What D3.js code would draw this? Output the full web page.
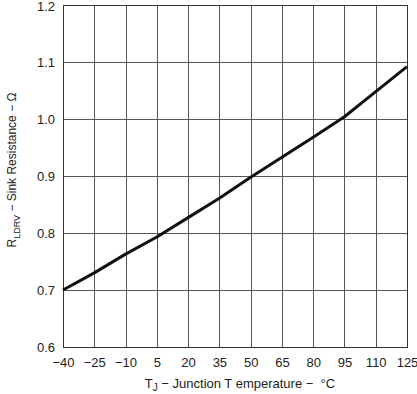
<!DOCTYPE html>
<html>
<head>
<meta charset="utf-8">
<script src="https://cdn.jsdelivr.net/npm/d3@7"></script>
<style>
  body { margin: 0; background: #fff; }
  text { font-family: "Liberation Sans", Arial, sans-serif; fill: #222; }
</style>
</head>
<body>
<svg id="chart" width="417" height="394"></svg>
<script>
// chart values
var temps = [-40, -25, -10, 5, 20, 35, 50, 65, 80, 95, 110, 125];
var resistance = [0.700, 0.730, 0.763, 0.793, 0.827, 0.861, 0.898, 0.933, 0.968, 1.004, 1.048, 1.092];
var xTicks = [-40, -25, -10, 5, 20, 35, 50, 65, 80, 95, 110, 125];
var yTicks = [0.6, 0.7, 0.8, 0.9, 1.0, 1.1, 1.2];

// plot box
var margin = {top: 5, right: 10, bottom: 47, left: 63};
var width = 417 - margin.left - margin.right,
    height = 394 - margin.top - margin.bottom;

var svg = d3.select("#chart");
var g = svg.append("g")
    .attr("transform", "translate(" + margin.left + "," + margin.top + ")");

var x = d3.scaleLinear().domain([-40, 125]).range([0, width]);
var y = d3.scaleLinear().domain([0.6, 1.2]).range([height, 0]);

// grid
g.append("g").selectAll("line")
    .data(xTicks)
    .enter().append("line")
    .attr("x1", function(d) { return Math.round(x(d)) + 0.5; })
    .attr("x2", function(d) { return Math.round(x(d)) + 0.5; })
    .attr("y1", 0).attr("y2", height)
    .attr("stroke", "#555").attr("stroke-width", 1);

g.append("g").selectAll("line")
    .data(yTicks)
    .enter().append("line")
    .attr("y1", function(d) { return Math.round(y(d)) + 0.5; })
    .attr("y2", function(d) { return Math.round(y(d)) + 0.5; })
    .attr("x1", 0).attr("x2", width)
    .attr("stroke", "#555").attr("stroke-width", 1);

// frame
g.append("rect")
    .attr("x", 0.5).attr("y", 0.5)
    .attr("width", Math.round(width)).attr("height", Math.round(height))
    .attr("fill", "none").attr("stroke", "#333");

// axes (labels only)
var xAxis = d3.axisBottom(x).tickValues(xTicks).tickSize(0).tickPadding(11)
    .tickFormat(function(d) { return d < 0 ? "\u2212" + Math.abs(d) : d; });
var gx = g.append("g").attr("transform", "translate(0," + height + ")").call(xAxis);
gx.select(".domain").remove();
gx.selectAll("text").attr("font-size", 13).style("font-family", "Liberation Sans, Arial, sans-serif").attr("fill", "#222");

var yAxis = d3.axisLeft(y).tickValues(yTicks).tickSize(0).tickPadding(8)
    .tickFormat(d3.format(".1f"));
var gy = g.append("g").call(yAxis);
gy.select(".domain").remove();
gy.selectAll("text").attr("font-size", 13).style("font-family", "Liberation Sans, Arial, sans-serif").attr("fill", "#222");
// keep the top label inside the page
gy.selectAll("text").filter(function(d) { return d === 1.2; }).attr("dy", "0.42em");

// data line
var line = d3.line()
    .x(function(d, i) { return x(temps[i]); })
    .y(function(d) { return y(d); });

g.append("path")
    .datum(resistance)
    .attr("d", line)
    .attr("fill", "none")
    .attr("stroke", "#111")
    .attr("stroke-width", 3)
    .attr("stroke-linejoin", "round");

// axis titles
var xt = svg.append("text")
    .attr("x", 240)
    .attr("y", 388)
    .attr("text-anchor", "middle")
    .attr("font-size", 13)
    .attr("xml:space", "preserve");
xt.append("tspan").text("T");
xt.append("tspan").attr("dy", 3).attr("font-size", 10).text("J");
xt.append("tspan").attr("dy", -3).text(" \u2212 Junction T emperature \u2212  \u00B0C");

var yt = svg.append("text")
    .attr("transform", "translate(16,170) rotate(-90)")
    .attr("text-anchor", "middle")
    .attr("font-size", 12);
yt.append("tspan").text("R");
yt.append("tspan").attr("dy", 4).attr("font-size", 9).text("LDRV");
yt.append("tspan").attr("dy", -4).text(" \u2212 Sink Resistance \u2212 \u03A9");
</script>
</body>
</html>
